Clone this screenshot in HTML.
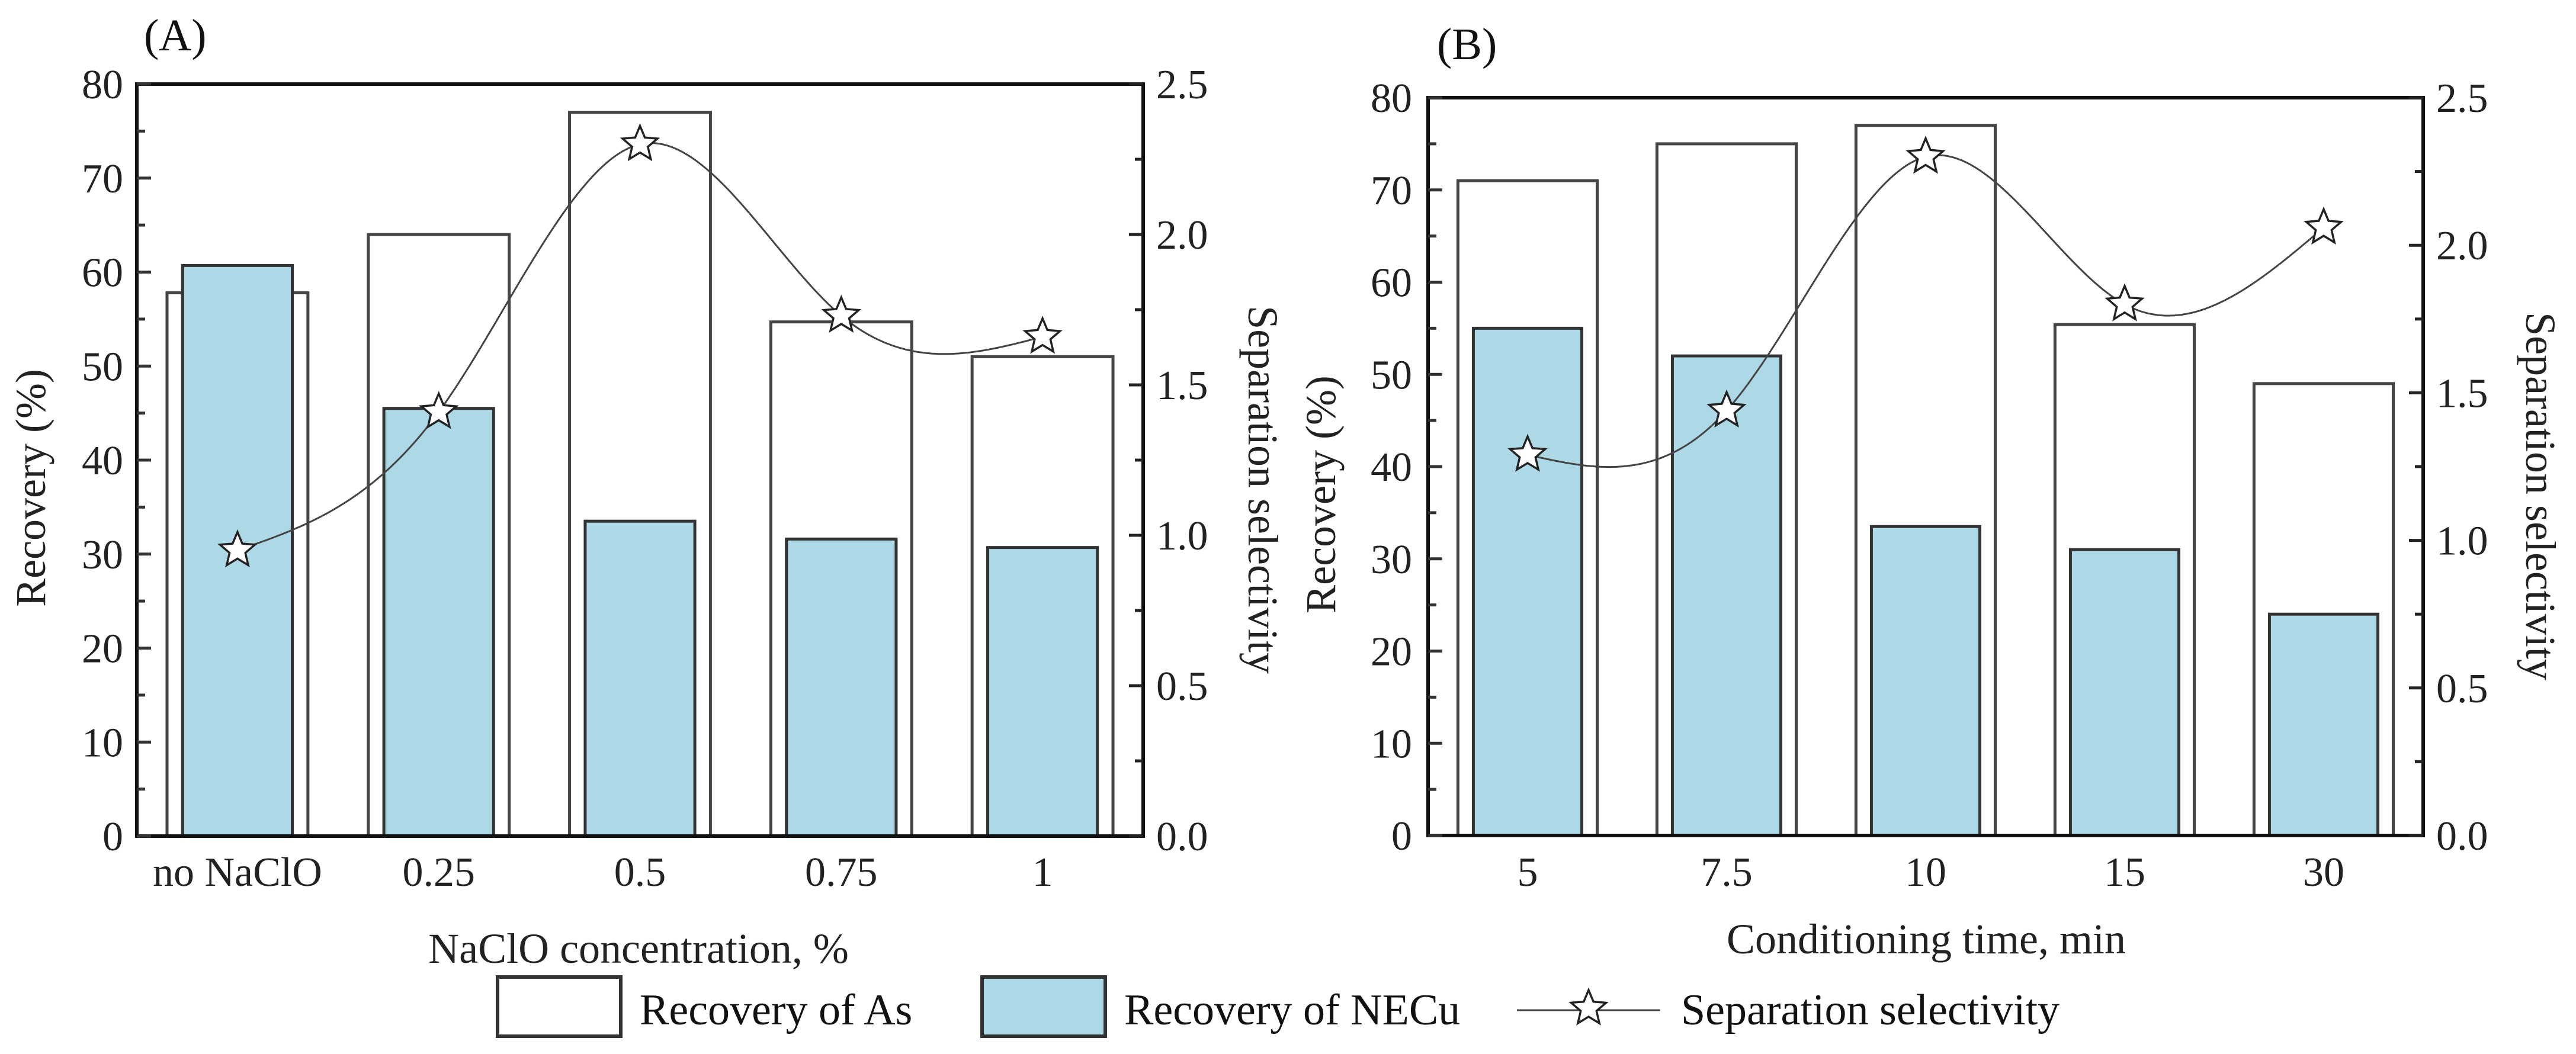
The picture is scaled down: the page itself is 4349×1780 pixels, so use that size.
<!DOCTYPE html>
<html><head><meta charset="utf-8"><style>
html,body{margin:0;padding:0;background:#fff;}
svg{display:block;}
text{font-family:"Liberation Serif","Times New Roman",serif;}
</style></head><body>
<svg id="root" width="4349" height="1780" viewBox="0 0 4349 1780" xmlns="http://www.w3.org/2000/svg">
<g id="legend">
  <rect x="840" y="1650" width="208" height="100" fill="#fff" stroke="#333" stroke-width="6"/>
  <text x="1080" y="1730" font-size="74" fill="#111" font-family="Liberation Serif, serif">Recovery of As</text>
  <rect x="1658" y="1650" width="208" height="100" fill="#add8e6" stroke="#333" stroke-width="6"/>
  <text x="1898" y="1730" font-size="74" fill="#111" font-family="Liberation Serif, serif">Recovery of NECu</text>
  <line x1="2561" y1="1706" x2="2803" y2="1706" stroke="#444" stroke-width="3"/>
  <text x="2838" y="1730" font-size="74" fill="#111" font-family="Liberation Serif, serif">Separation selectivity</text>
</g>
</svg>
<script>
const catsA = ["no NaClO","0.25","0.5","0.75","1"];
const asA = [57.8,64,77,54.7,51];
const cuA = [60.7,45.5,33.5,31.6,30.7];
const selA = [0.95,1.41,2.30,1.73,1.66];
const catsB = ["5","7.5","10","15","30"];
const asB = [71,75,77,55.4,49];
const cuB = [55,52,33.5,31,24];
const selB = [1.29,1.44,2.30,1.80,2.06];
const leftTicks = [0,10,20,30,40,50,60,70,80];
const rightTicks = ["0.0","0.5","1.0","1.5","2.0","2.5"];

const NS="http://www.w3.org/2000/svg";
const root=document.getElementById('root');
const FF="Liberation Serif, Times New Roman, serif";
function mk(tag,attrs,parent){const e=document.createElementNS(NS,tag);for(const k in attrs)e.setAttribute(k,attrs[k]);if(tag==='text')e.setAttribute('font-family',FF);(parent||root).appendChild(e);return e;}

function starPath(cx,cy,R){const r=R*0.45;let d="";for(let i=0;i<10;i++){const a=-Math.PI/2+i*Math.PI/5;const rr=i%2?r:R;d+=(i?"L":"M")+(cx+rr*Math.cos(a)).toFixed(1)+","+(cy+rr*Math.sin(a)).toFixed(1);}return d+"Z";}
function starSymbol(g,cx,cy){return mk('path',{d:starPath(cx,cy,31),fill:'#fff',stroke:'#222','stroke-width':3.5},g);}

const lstar=starSymbol(document.getElementById('legend'),2682,1703);



function naturalSpline(xs,ys){
  const n=xs.length,h=[],al=[],l=[1],mu=[0],z=[0],c=new Array(n).fill(0),b=[],d=[];
  for(let i=0;i<n-1;i++)h.push(xs[i+1]-xs[i]);
  for(let i=1;i<n-1;i++)al[i]=3/h[i]*(ys[i+1]-ys[i])-3/h[i-1]*(ys[i]-ys[i-1]);
  for(let i=1;i<n-1;i++){l[i]=2*(xs[i+1]-xs[i-1])-h[i-1]*mu[i-1];mu[i]=h[i]/l[i];z[i]=(al[i]-h[i-1]*z[i-1])/l[i];}
  l[n-1]=1;z[n-1]=0;
  for(let j=n-2;j>=0;j--){c[j]=z[j]-mu[j]*c[j+1];b[j]=(ys[j+1]-ys[j])/h[j]-h[j]*(c[j+1]+2*c[j])/3;d[j]=(c[j+1]-c[j])/(3*h[j]);}
  return x=>{let j=0;while(j<n-2&&x>xs[j+1])j++;const t=x-xs[j];return ys[j]+b[j]*t+c[j]*t*t+d[j]*t*t*t;};
}

function panel(o){
  const g=mk('g',{});
  
  
  const L=o.left,R=o.right,T=o.top,B=o.bottom,band=(R-L)/o.cats.length;
  const y=v=>B-(v/80)*(B-T);
  const y2=v=>B-(v/2.5)*(B-T);
  const xc=i=>L+band*(i+0.5);
  o.as.forEach((v,i)=>{
    const w=band*0.70;
    const r=mk('rect',{x:xc(i)-w/2,y:y(v),width:w,height:B-y(v),fill:'#fff',stroke:'#444','stroke-width':5},g);
    
    
  });
  o.cu.forEach((v,i)=>{
    const w=band*0.545;
    const r=mk('rect',{x:xc(i)-w/2,y:y(v),width:w,height:B-y(v),fill:'#add8e6',stroke:'#333','stroke-width':5},g);
    
    
  });
  const xs=o.sel.map((v,i)=>xc(i)), ys=o.sel.map(v=>y2(v));
  const f=naturalSpline(xs,ys);
  let d="";
  for(let x=xs[0];x<=xs[xs.length-1]+0.1;x+=4){d+=(d?"L":"M")+x.toFixed(1)+","+f(Math.min(x,xs[xs.length-1])).toFixed(1);}
  const line=mk('path',{d:d,fill:'none',stroke:'#444','stroke-width':3},g);
  
  
  xs.forEach((x,i)=>{
    const s=starSymbol(g,x,ys[i]);
    
    
  });
  const fr=mk('rect',{x:L,y:T,width:R-L,height:B-T,fill:'none',stroke:'#111','stroke-width':6},g);
  
  
  for(let v=0;v<=80;v+=5){
    const major=v%10===0;
    mk('line',{x1:L,x2:L+(major?24:14),y1:y(v),y2:y(v),stroke:'#333','stroke-width':5},g);
  }
  leftTicks.forEach(v=>{
    const t=mk('text',{x:o.ltx,y:y(v)+24,'font-size':70,'text-anchor':'end',fill:'#222'},g);
    t.textContent=v;
    
    
  });
  for(let k=0;k<=10;k++){
    const v=k*0.25,major=k%2===0;
    mk('line',{x1:R,x2:R-(major?24:14),y1:y2(v),y2:y2(v),stroke:'#222','stroke-width':5},g);
  }
  rightTicks.forEach(s=>{
    const t=mk('text',{x:R+22,y:y2(parseFloat(s))+24,'font-size':70,fill:'#222'},g);
    t.textContent=s;
    
    
  });
  o.cats.forEach((c,i)=>{
    const t=mk('text',{x:xc(i),y:1496,'font-size':70,'text-anchor':'middle',fill:'#222'},g);
    t.textContent=c;
    
    
  });
  const xt=mk('text',{x:o.xtx,y:o.xty,'font-size':72,'text-anchor':'middle',fill:'#222'},g);
  xt.textContent=o.xtitle;
  
  
  const yt=mk('text',{x:0,y:0,'font-size':72,'text-anchor':'middle',fill:'#222',transform:`translate(${o.ytx},${o.yty}) rotate(-90)`},g);
  yt.textContent="Recovery (%)";
  
  
  const rt=mk('text',{x:0,y:0,'font-size':72,'text-anchor':'middle',fill:'#222',transform:`translate(${o.rtx},${o.rty}) rotate(90)`},g);
  rt.textContent="Separation selectivity";
  
  
  const pl=mk('text',{x:o.plx,y:o.ply,'font-size':76,fill:'#111'},g);
  pl.textContent=o.label;
  
  
}
panel({name:'panel-a',cats:catsA,as:asA,cu:cuA,sel:selA,left:231,right:1930,top:142,bottom:1412,ltx:208,
  xtitle:'NaClO concentration, %',xtx:1078,xty:1626,ytx:76,yty:824,rtx:2108,rty:827,label:'(A)',plx:243,ply:85});
panel({name:'panel-b',cats:catsB,as:asB,cu:cuB,sel:selB,left:2411,right:4091,top:165,bottom:1411,ltx:2384,
  xtitle:'Conditioning time, min',xtx:3252,xty:1610,ytx:2254,yty:835,rtx:4265,rty:838,label:'(B)',plx:2426,ply:100});
</script>
</body></html>
